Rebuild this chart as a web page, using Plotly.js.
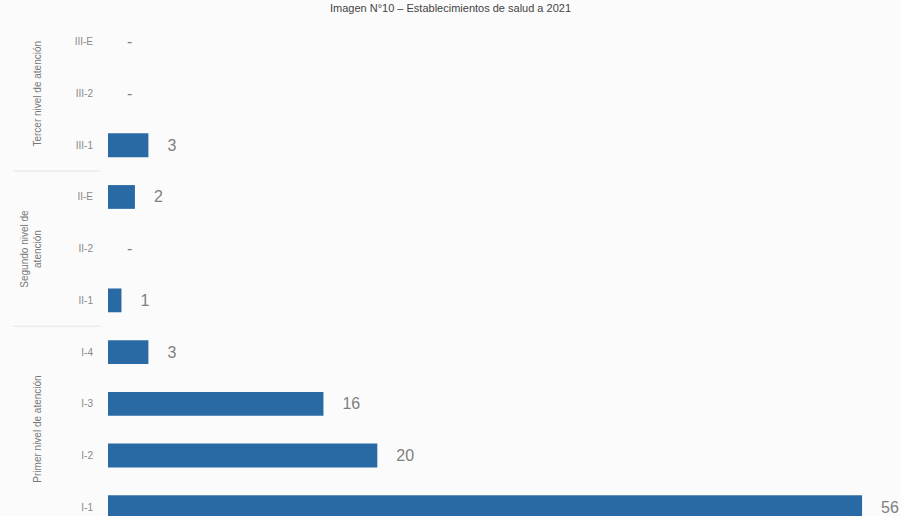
<!DOCTYPE html>
<html>
<head>
<meta charset="utf-8">
<script src="https://cdn.plot.ly/plotly-3.0.1.min.js"></script>
<style>html,body{margin:0;padding:0;background:#fbfbfb;}#chart{width:901px;height:516px;}</style>
</head>
<body>
<div id="chart"></div>
<script>
// Data (bottom-to-top order)
const categories = ["I-1", "I-2", "I-3", "I-4", "II-1", "II-2", "II-E", "III-1", "III-2", "III-E"];
const values = [56, 20, 16, 3, 1, 0, 2, 3, 0, 0];
const missing = [false, false, false, false, false, true, false, false, true, true];
const groupLabels = ["Primer nivel de atención", "Segundo nivel de<br>atención", "Tercer nivel de atención"];
const titleText = "Imagen N°10 – Establecimientos de salud a 2021";

const labels = values.map((v, i) => "\u2002\u2002" + (missing[i] ? "-" : String(v)));

const trace = {
  type: "bar",
  orientation: "h",
  x: values,
  y: categories,
  marker: {color: "#2a6aa4"},
  width: 0.46,
  text: labels,
  textposition: "outside",
  cliponaxis: false,
  textfont: {family: "Liberation Sans Narrow, Arial Narrow, sans-serif", size: 16, color: "#808080"},
  hoverinfo: "none"
};

const layout = {
  width: 901, height: 516,
  paper_bgcolor: "#fbfbfb", plot_bgcolor: "#fbfbfb",
  margin: {l: 108, r: 12, t: 16, b: 0},
  showlegend: false,
  title: {text: titleText, x: 0.5, xanchor: "center", y: 0.984, yanchor: "middle", yref: "container",
          font: {family: "Liberation Sans Narrow, Arial Narrow, sans-serif", size: 11, color: "#444"}},
  xaxis: {range: [0, 58], showgrid: false, zeroline: false, showticklabels: false, showline: false, fixedrange: true},
  yaxis: {type: "category", categoryorder: "array", categoryarray: categories, range: [-0.17, 9.5],
          showgrid: false, zeroline: false, showline: false, ticks: "", ticklabelstandoff: 14,
          tickfont: {family: "Liberation Sans Narrow, Arial Narrow, sans-serif", size: 10, color: "#888"}},
  shapes: [
    {type: "line", xref: "paper", yref: "y", x0: -95/781, x1: -8/781, y0: 6.5, y1: 6.5, line: {color: "#e4e4e4", width: 1}},
    {type: "line", xref: "paper", yref: "y", x0: -95/781, x1: -8/781, y0: 3.5, y1: 3.5, line: {color: "#e4e4e4", width: 1}}
  ],
  annotations: [
    {text: groupLabels[2], xref: "paper", yref: "y", x: -70/781, y: 8, xanchor: "center", textangle: -90, showarrow: false,
     font: {family: "Liberation Sans Narrow, Arial Narrow, sans-serif", size: 10, color: "#777"}},
    {text: groupLabels[1], xref: "paper", yref: "y", x: -77/781, y: 5, xanchor: "center", textangle: -90, showarrow: false,
     font: {family: "Liberation Sans Narrow, Arial Narrow, sans-serif", size: 10, color: "#777"}},
    {text: groupLabels[0], xref: "paper", yref: "y", x: -70/781, y: 1.5, xanchor: "center", textangle: -90, showarrow: false,
     font: {family: "Liberation Sans Narrow, Arial Narrow, sans-serif", size: 10, color: "#777"}}
  ]
};

Plotly.newPlot("chart", [trace], layout, {displayModeBar: false, staticPlot: true});

// shift group labels slightly left to match reference placement
</script>
</body>
</html>
